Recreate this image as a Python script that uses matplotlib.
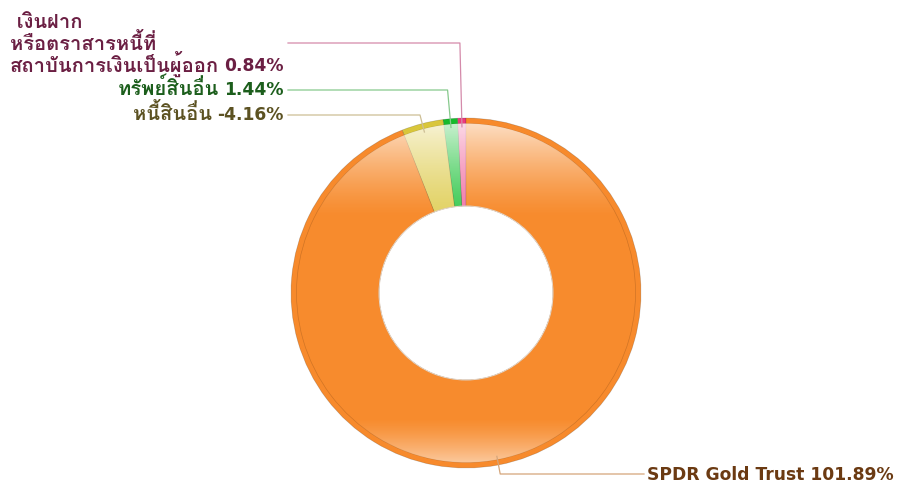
import numpy as np
import matplotlib
matplotlib.use("Agg")
import matplotlib.pyplot as plt
from matplotlib import font_manager as fm
from matplotlib.ft2font import FT2Font
from matplotlib.patches import Wedge

# ---- data ----
categories = [[" เงินฝาก", "หรือตราสารหนี้ที่", "สถาบันการเงินเป็นผู้ออก"],
              ["ทรัพย์สินอื่น"], ["หนี้สินอื่น"], ["SPDR Gold Trust"]]
values = [0.84, 1.44, -4.16, 101.89]
rim_colors = ["#EC3A7E", "#16BA2C", "#D9C63A", "#F78A2C"]
fill_colors = ["#F27AAA", "#3FCB56", "#E2D264", "#F78B2D"]
line_colors = ["#D48AAA", "#86C98C", "#CDBF95", "#D5A57A"]
text_colors = ["#6B1F43", "#1C5E1C", "#5C5222", "#6B3A12"]

# ---- Thai-capable font ----
thai_names = []
for f in fm.fontManager.ttflist:
    try:
        if FT2Font(f.fname).get_char_index(0x0E01) and f.name not in thai_names:
            thai_names.append(f.name)
    except Exception:
        pass
thai_font = "Loma" if "Loma" in thai_names else (thai_names[0] if thai_names else "DejaVu Sans")
THAI = [thai_font, "DejaVu Sans"]
LATIN = ["DejaVu Sans"]
FS_LAT = 12.3
FS_THAI = 14.5

W, H = 899, 486
fig = plt.figure(figsize=(W / 100, H / 100), dpi=100)
ax = fig.add_axes([0, 0, 1, 1])

cx, cy = 466, H - 293
R, Rin, Rrim = 175, 87, 169.5
sizes = np.abs(values)

wedges, _ = ax.pie(sizes, colors=rim_colors, startangle=90, counterclock=True,
                   radius=R, center=(cx, cy), frame=True,
                   wedgeprops=dict(width=R - Rin, edgecolor="#00000030", linewidth=0.5))
ax.pie(sizes, colors=fill_colors, startangle=90, counterclock=True,
       radius=Rrim, center=(cx, cy), frame=True,
       wedgeprops=dict(width=Rrim - Rin, edgecolor="#00000028", linewidth=0.5))
ax.set_xlim(0, W)
ax.set_ylim(0, H)
ax.set_aspect('equal')
ax.axis('off')

# glossy white overlay
ypix = np.arange(H) + 0.5
alpha = np.zeros(H)
top0, top1 = 118, 218
m = (ypix >= top0) & (ypix <= top1)
alpha[m] = 0.78 * (1 - (ypix[m] - top0) / (top1 - top0)) ** 1.3
bot0, bot1 = 418, 468
m2 = (ypix >= bot0) & (ypix <= bot1)
alpha[m2] = 0.62 * ((ypix[m2] - bot0) / (bot1 - bot0)) ** 1.3
img = np.ones((H, 10, 4))
img[:, :, 3] = alpha[:, None]
clip = Wedge((cx, cy), Rrim, 0, 360, width=Rrim - Rin, facecolor='none', edgecolor='none')
ax.add_patch(clip)
im = ax.imshow(img, extent=[0, W, 0, H], origin='upper', aspect='auto', zorder=3,
               interpolation='bilinear')
im.set_clip_path(clip)
ax.add_patch(Wedge((cx, cy), Rin + 0.5, 0, 360, width=1.0, facecolor="#E8D8C8",
                   edgecolor='none', zorder=4))

fig.canvas.draw()
renderer = fig.canvas.get_renderer()
inv = ax.transData.inverted()


def left_of(t):
    bb = t.get_window_extent(renderer=renderer)
    return inv.transform((bb.x0, bb.y0))[0]


# labels
label_line_y = [43, 90, 115, 474]
baselines = [[28, 50, 71.5], [95.5], [120], [480]]
right_x = 283.5
for i, w in enumerate(wedges):
    ang = np.deg2rad((w.theta1 + w.theta2) / 2)
    ra = R * 0.95
    ax_, ay_ = cx + ra * np.cos(ang), cy + ra * np.sin(ang)
    ly = H - label_line_y[i]
    t = (ly - ay_) / np.sin(ang)
    ex = ax_ + t * np.cos(ang)
    pct = f"{values[i]:.2f}%"
    col = text_colors[i]
    if ex < cx:
        ax.plot([ax_, ex, right_x + 4.5], [ay_, ly, ly], color=line_colors[i], lw=0.9, zorder=5)
        lines = categories[i]
        by = H - baselines[i][-1]
        tl = ax.text(right_x, by, pct, ha='right', va='baseline', family=LATIN,
                     fontsize=FS_LAT, fontweight='bold', color=col, zorder=6)
        xl = left_of(tl) - 5.0
        tt = ax.text(xl, by, lines[-1], ha='right', va='baseline', family=THAI,
                     fontsize=FS_THAI, fontweight='bold', color=col, zorder=6)
        x0 = left_of(tt)
        for j, s in enumerate(lines[:-1]):
            ax.text(x0, H - baselines[i][j], s, ha='left', va='baseline', family=THAI,
                    fontsize=FS_THAI, fontweight='bold', color=col, zorder=6)
    else:
        x_end = 644
        ax.plot([ax_, ex, x_end], [ay_, ly, ly], color=line_colors[i], lw=0.9, zorder=5)
        ax.text(x_end + 3, H - baselines[i][0], f"{categories[i][0]} {pct}", ha='left',
                va='baseline', family=LATIN, fontsize=FS_LAT, fontweight='bold',
                color=col, zorder=6)

fig.savefig("out.png", dpi=100)
